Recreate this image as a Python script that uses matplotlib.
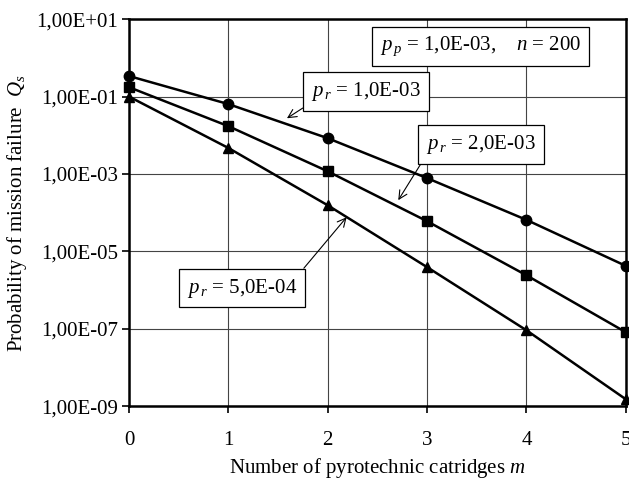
import numpy as np
import matplotlib
matplotlib.use("Agg")
from matplotlib import pyplot as plt
from matplotlib.ticker import FixedLocator

plt.rcParams['font.family'] = ['Liberation Serif', 'DejaVu Serif']
plt.rcParams['mathtext.fontset'] = 'custom'
plt.rcParams['mathtext.rm'] = 'Liberation Serif'
plt.rcParams['mathtext.it'] = 'Liberation Serif:italic'

# number of cartridges
m = [0, 1, 2, 3, 4, 5]
# probability of mission failure for each p_r
q_pr_1e3 = [0.34, 0.064, 8.4e-3, 7.8e-4, 6.5e-5, 4.2e-6]
q_pr_2e3 = [0.175, 0.0172, 1.17e-3, 6.0e-5, 2.4e-6, 8.1e-8]
q_pr_5e4 = [0.1, 4.7e-3, 1.55e-4, 3.9e-6, 9.1e-8, 1.5e-9]

y_ticks = [1e1, 1e-1, 1e-3, 1e-5, 1e-7, 1e-9]
y_labels = ['1,00E+01', '1,00E-01', '1,00E-03', '1,00E-05', '1,00E-07', '1,00E-09']

fs = 15

fig = plt.figure(figsize=(6.29, 4.80), dpi=100)
ax = fig.add_axes([0.205, 0.154, 0.79, 0.806])

ax.plot(m, q_pr_1e3, 'k-', marker='o', markersize=7.5, lw=1.8)
ax.plot(m, q_pr_2e3, 'k-', marker='s', markersize=7.5, lw=1.8)
ax.plot(m, q_pr_5e4, 'k-', marker='^', markersize=7.5, lw=1.8)

ax.set_yscale('log')
ax.set_xlim(0, 5)
ax.set_ylim(1e-9, 1e1)
ax.yaxis.set_major_locator(FixedLocator(y_ticks))
ax.yaxis.set_minor_locator(FixedLocator([]))
ax.set_yticklabels(y_labels)
ax.set_xticks(m)
ax.grid(True, color='#444444', lw=0.8)
ax.tick_params(axis='both', labelsize=fs, direction='out', length=5, width=1.2)
ax.tick_params(axis='x', pad=13)
ax.tick_params(axis='y', pad=3)
for sp in ax.spines.values():
    sp.set_linewidth(1.8)

ax.set_xlabel(r'Number of pyrotechnic catridges $m$', fontsize=fs, labelpad=4)
ax.set_ylabel(r'Probability of mission failure  $Q_s$', fontsize=fs, labelpad=5)

box = dict(boxstyle='square,pad=0.38', fc='white', ec='black', lw=0.9)
arrow = dict(arrowstyle='->', color='black', lw=0.8, shrinkA=0, shrinkB=0)

ax.text(0.708, 0.930, r'$p_{\,p}$ = 1,0E-03,    $n$ = $200$', transform=ax.transAxes,
        fontsize=fs, ha='center', va='center', bbox=box)

ax.annotate(r'$p_{\,r}$ = 1,0E-03', xy=(1.59, 0.0275), xytext=(0.477, 0.814),
            textcoords='axes fraction', fontsize=fs, ha='center', va='center',
            bbox=box, arrowprops=dict(arrow, relpos=(0, 0)))
ax.annotate(r'$p_{\,r}$ = 2,0E-03', xy=(2.71, 2.1e-4), xytext=(0.708, 0.677),
            textcoords='axes fraction', fontsize=fs, ha='center', va='center',
            bbox=box, arrowprops=dict(arrow, relpos=(0, 0)))
ax.annotate(r'$p_{\,r}$ = 5,0E-04', xy=(2.19, 7.6e-5), xytext=(0.227, 0.305),
            textcoords='axes fraction', fontsize=fs, ha='center', va='center',
            bbox=box, arrowprops=dict(arrow, relpos=(1, 1)))

for line in ax.lines:
    line.set_clip_on(False)

fig.savefig('out.png', dpi=100)
